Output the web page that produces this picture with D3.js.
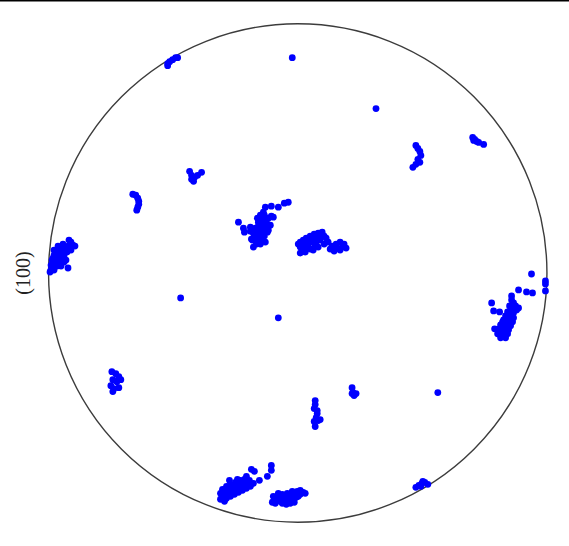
<!DOCTYPE html>
<html>
<head>
<meta charset="utf-8">
<script src="https://cdn.jsdelivr.net/npm/d3@7"></script>
<style>
  html, body { margin: 0; padding: 0; background: #fff; }
  svg { display: block; }
</style>
</head>
<body>
<svg id="chart" width="569" height="546"></svg>
<script>
// Pole figure label
const axisLabel = "(100)";

// Projected pole positions (stereographic, unit circle), grouped by cluster
const clusterTopLeftEdge = [[-0.522,0.840],[-0.514,0.848],[-0.502,0.856],[-0.490,0.864],[-0.482,0.864],[-0.522,0.832]];
const singles = [[-0.022,0.864],[0.314,0.660],[-0.470,-0.100],[-0.078,-0.180],[0.562,-0.480]];
const clusterUpperRight = [[0.474,0.512],[0.482,0.500],[0.490,0.488],[0.494,0.472],[0.482,0.456],[0.490,0.444],[0.474,0.436],[0.462,0.424]];
const clusterFarUpperRight = [[0.702,0.544],[0.710,0.536],[0.718,0.528],[0.706,0.532],[0.726,0.524],[0.746,0.516]];
const clusterUpperLeftA = [[-0.662,0.316],[-0.650,0.312],[-0.642,0.300],[-0.638,0.288],[-0.638,0.276],[-0.642,0.264],[-0.646,0.252]];
const clusterUpperLeftB = [[-0.434,0.408],[-0.426,0.392],[-0.426,0.376],[-0.414,0.384],[-0.402,0.392],[-0.386,0.404],[-0.418,0.368]];
const clusterCentreLeft = [[-0.238,0.204],[-0.218,0.180],[-0.214,0.164],[-0.130,0.264],[-0.106,0.268],[-0.078,0.264],[-0.054,0.280],[-0.038,0.284],[-0.098,0.224],[-0.186,0.136],[-0.178,0.104],
  [-0.190,0.184],[-0.178,0.176],[-0.166,0.168],[-0.154,0.160],[-0.142,0.172],[-0.130,0.180],[-0.118,0.188],[-0.126,0.204],[-0.142,0.212],[-0.150,0.232],[-0.138,0.244],[-0.158,0.204],[-0.170,0.152],[-0.158,0.140],[-0.142,0.132],[-0.150,0.116],[-0.166,0.116],[-0.134,0.148],[-0.122,0.164],[-0.110,0.192],[-0.118,0.220],[-0.106,0.228],[-0.158,0.188],[-0.146,0.188],[-0.174,0.144],[-0.182,0.132],[-0.130,0.124],
  [-0.170,0.180],[-0.150,0.172],[-0.138,0.192],[-0.130,0.220],[-0.142,0.156],[-0.154,0.128],[-0.166,0.132],[-0.118,0.172],[-0.134,0.232],[-0.162,0.220],[-0.178,0.160],[-0.190,0.168]];
const clusterCentre = [[0.010,0.124],[0.022,0.132],[0.034,0.140],[0.050,0.148],[0.066,0.156],[0.082,0.160],[0.098,0.164],[0.078,0.140],[0.058,0.124],[0.042,0.108],[0.026,0.100],[0.010,0.104],[0.050,0.096],[0.070,0.108],[0.090,0.132],[0.106,0.148],[0.122,0.124],[0.138,0.108],[0.154,0.116],[0.170,0.124],[0.186,0.116],[0.194,0.100],[0.170,0.092],[0.146,0.088],[0.130,0.096],[0.062,0.092],[0.082,0.104],[0.094,0.152],[0.038,0.120],
  [0.030,0.116],[0.066,0.140],[0.046,0.132],[0.106,0.116],[0.114,0.140],[0.154,0.100],[0.178,0.104],[0.002,0.116],[0.018,0.088],[0.030,0.084],[0.074,0.124],[0.010,0.080]];
const clusterLeftEdge = [[-0.990,0.012],[-0.990,0.032],[-0.986,0.052],[-0.978,0.072],[-0.970,0.084],[-0.958,0.092],[-0.946,0.100],[-0.934,0.104],[-0.922,0.108],[-0.910,0.124],[-0.902,0.112],[-0.894,0.108],[-0.926,0.084],[-0.938,0.068],[-0.958,0.060],[-0.970,0.044],[-0.950,0.044],[-0.930,0.052],[-0.922,0.020],[-0.978,0.092],[-0.962,0.108],[-0.942,0.116],[-0.918,0.132],[-0.910,0.092],[-0.982,0.028],[-0.994,0.004],
  [-0.966,0.068],[-0.950,0.076],[-0.942,0.092],[-0.926,0.096],[-0.982,0.060],[-0.966,0.028],[-0.950,0.028],[-0.938,0.044],[-0.978,0.012]];
const clusterRightEdge = [[0.938,-0.004],[0.994,-0.032],[0.994,-0.044],[0.994,-0.072],[0.886,-0.068],[0.918,-0.076],[0.942,-0.080],[0.858,-0.092],[0.778,-0.120],[0.786,-0.152],[0.810,-0.156],[0.790,-0.224],
  [0.858,-0.108],[0.866,-0.120],[0.850,-0.132],[0.874,-0.132],[0.858,-0.144],[0.878,-0.148],[0.842,-0.156],[0.866,-0.160],[0.834,-0.172],[0.854,-0.172],[0.866,-0.180],[0.826,-0.188],[0.846,-0.192],[0.862,-0.196],[0.814,-0.208],[0.834,-0.208],[0.854,-0.212],[0.806,-0.224],[0.826,-0.228],[0.846,-0.228],[0.802,-0.244],[0.822,-0.244],[0.842,-0.244],[0.814,-0.260],[0.834,-0.260],[0.886,-0.140],
  [0.830,-0.220],[0.822,-0.196],[0.810,-0.236]];
const clusterLowerLeft = [[-0.746,-0.396],[-0.730,-0.404],[-0.718,-0.416],[-0.710,-0.428],[-0.726,-0.436],[-0.742,-0.428],[-0.750,-0.452],[-0.738,-0.464],[-0.718,-0.460],[-0.742,-0.476]];
const clusterLowerMid = [[0.218,-0.460],[0.222,-0.480],[0.234,-0.484],[0.226,-0.492],[0.218,-0.484]];
const clusterLowerCentre = [[0.070,-0.512],[0.070,-0.528],[0.066,-0.544],[0.078,-0.552],[0.078,-0.564],[0.074,-0.580],[0.066,-0.596],[0.082,-0.592],[0.090,-0.588],[0.070,-0.616]];
const clusterBottomRight = [[0.474,-0.860],[0.486,-0.852],[0.498,-0.844],[0.510,-0.840],[0.522,-0.848],[0.502,-0.836],[0.494,-0.856]];
const clusterBottomLeft = [[-0.106,-0.772],[-0.106,-0.792],[-0.122,-0.816],[-0.154,-0.832],[-0.186,-0.788],[-0.174,-0.796],[-0.206,-0.816],[-0.274,-0.832],[-0.242,-0.828],
  [-0.302,-0.868],[-0.290,-0.884],[-0.302,-0.896],[-0.310,-0.908],[-0.286,-0.904],[-0.270,-0.896],[-0.254,-0.888],[-0.238,-0.880],[-0.222,-0.872],[-0.206,-0.864],[-0.190,-0.856],[-0.178,-0.844],[-0.194,-0.832],[-0.210,-0.840],[-0.226,-0.848],[-0.242,-0.856],[-0.258,-0.864],[-0.274,-0.872],[-0.286,-0.856],[-0.270,-0.848],[-0.250,-0.840],[-0.230,-0.832],[-0.214,-0.828],[-0.278,-0.884],[-0.262,-0.876],[-0.246,-0.868],[-0.230,-0.864],[-0.294,-0.916],[-0.310,-0.884],
  [-0.294,-0.876],[-0.278,-0.860],[-0.246,-0.852],[-0.214,-0.852],[-0.198,-0.844]];
const clusterBottom = [[-0.098,-0.896],[-0.086,-0.908],[-0.070,-0.916],[-0.054,-0.920],[-0.038,-0.916],[-0.022,-0.908],[-0.006,-0.900],[0.010,-0.888],[0.022,-0.880],[-0.002,-0.876],[-0.022,-0.876],[-0.042,-0.884],[-0.062,-0.888],[-0.078,-0.884],[-0.050,-0.900],[-0.030,-0.896],[-0.070,-0.904],[-0.090,-0.924],[-0.062,-0.924],[-0.030,-0.924],
  [-0.014,-0.888],[0.002,-0.896],[-0.042,-0.908],[-0.058,-0.908],[-0.078,-0.912],[-0.102,-0.920],[-0.046,-0.928],[-0.014,-0.920],[0.030,-0.884],[0.010,-0.872]];

const poles = [].concat(clusterTopLeftEdge, singles, clusterUpperRight, clusterFarUpperRight,
  clusterUpperLeftA, clusterUpperLeftB, clusterCentreLeft, clusterCentre, clusterLeftEdge,
  clusterRightEdge, clusterLowerLeft, clusterLowerMid, clusterLowerCentre, clusterBottomRight,
  clusterBottomLeft, clusterBottom);

const W = 569, H = 546;
const cx = 297.75, cy = 273, R = 249.2;
const svg = d3.select("#chart");

const x = d3.scaleLinear().domain([-1, 1]).range([cx - R, cx + R]);
const y = d3.scaleLinear().domain([-1, 1]).range([cy + R, cy - R]);

// top border line
svg.append("line").attr("x1", 0).attr("x2", W).attr("y1", 0.75).attr("y2", 0.75)
  .attr("stroke", "#000").attr("stroke-width", 1.5);

// primitive circle
svg.append("circle").attr("cx", x(0)).attr("cy", y(0)).attr("r", x(1) - x(0))
  .attr("fill", "none").attr("stroke", "#3c3c3c").attr("stroke-width", 1.4);

// poles
svg.append("g").selectAll("circle").data(poles).join("circle")
  .attr("cx", d => x(d[0])).attr("cy", d => y(d[1])).attr("r", 3.4)
  .attr("fill", "#0000ff");

// label
svg.append("text").attr("transform", `translate(30,${cy}) rotate(-90)`)
  .attr("text-anchor", "middle")
  .attr("font-family", "'Liberation Serif', 'DejaVu Serif', serif")
  .attr("font-size", 20).attr("fill", "#222")
  .text(axisLabel);
</script>
</body>
</html>
